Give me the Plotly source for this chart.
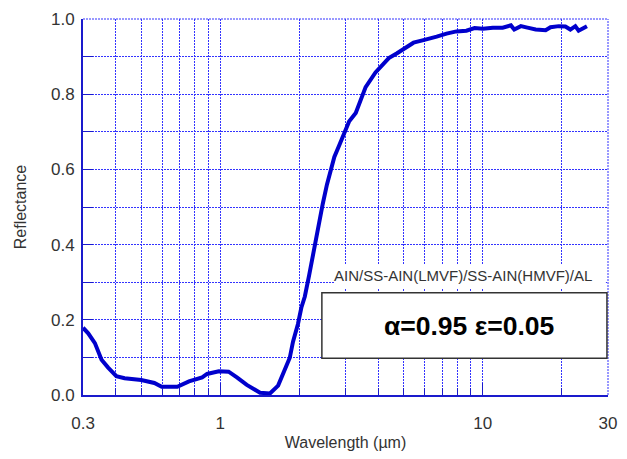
import plotly.graph_objects as go

# Wavelength (µm) and reflectance
wavelength = [0.300, 0.314, 0.333, 0.353, 0.374, 0.402, 0.432, 0.500, 0.561, 0.598,
              0.686, 0.760, 0.853, 0.891, 0.987, 1.076, 1.157, 1.262, 1.418, 1.546,
              1.661, 1.761, 1.840, 1.893, 1.977, 2.036, 2.10, 2.18, 2.272, 2.353,
              2.457, 2.550, 2.640, 2.720, 2.840, 3.008, 3.099, 3.282, 3.427, 3.579,
              3.903, 4.386, 4.715, 5.067, 5.448, 5.945, 6.118, 6.675, 7.277, 7.939,
              8.660, 9.305, 10.01, 10.92, 11.91, 12.80, 13.18, 13.97, 14.80, 15.91,
              17.36, 18.12, 19.48, 20.64, 21.56, 22.52, 23.18, 23.88, 24.94]
reflectance = [0.179, 0.164, 0.138, 0.094, 0.073, 0.050, 0.0445, 0.040, 0.032, 0.022,
               0.022, 0.036, 0.047, 0.056, 0.063, 0.062, 0.047, 0.027, 0.006, 0.004,
               0.025, 0.064, 0.099, 0.142, 0.189, 0.232, 0.262, 0.318, 0.383, 0.448,
               0.508, 0.560, 0.603, 0.633, 0.664, 0.702, 0.728, 0.750, 0.784, 0.819,
               0.858, 0.896, 0.909, 0.924, 0.937, 0.944, 0.946, 0.953, 0.961, 0.967,
               0.969, 0.976, 0.974, 0.977, 0.977, 0.983, 0.972, 0.981, 0.977, 0.972,
               0.970, 0.978, 0.981, 0.980, 0.972, 0.981, 0.969, 0.974, 0.981]

x_tick_vals = [0.3, 1, 10, 30]
x_tick_text = ["0.3", "1", "10", "30"]
x_minor_vals = [0.4, 0.5, 0.6, 0.7, 0.8, 0.9, 2, 3, 4, 5, 6, 7, 8, 9, 20]
y_tick_vals = [0.0, 0.2, 0.4, 0.6, 0.8, 1.0]
y_tick_text = ["0.0", "0.2", "0.4", "0.6", "0.8", "1.0"]
y_minor_vals = [0.1, 0.3, 0.5, 0.7, 0.9]

sample_label = "AIN/SS-AIN(LMVF)/SS-AIN(HMVF)/AL"
value_label = "α=0.95 ε=0.05"

BLUE = "#1a1acc"
GRID = "#3333ff"
DASH = "2px,1px"
FONT = "Arial, Liberation Sans, sans-serif"

fig = go.Figure()
fig.add_trace(go.Scatter(x=wavelength, y=reflectance, mode="lines",
                         line=dict(color="#0000cc", width=4), showlegend=False))

fig.update_xaxes(
    type="log", range=[-0.5229, 1.4771],
    tickvals=x_tick_vals, ticktext=x_tick_text,
    ticks="inside", ticklen=12, tickcolor=BLUE, tickwidth=1,
    showgrid=True, gridcolor=GRID, griddash=DASH, gridwidth=1,
    minor=dict(tickvals=x_minor_vals, ticks="inside", ticklen=7, tickcolor=BLUE,
               showgrid=True, gridcolor=GRID, griddash=DASH, gridwidth=1),
    showline=True, linecolor=BLUE, linewidth=2, zeroline=False,
    tickfont=dict(family=FONT, size=17, color="#333333"),
    ticklabelstandoff=12,
    title=dict(text="Wavelength (µm)", font=dict(family=FONT, size=16, color="#333333"),
               standoff=4),
)
fig.update_yaxes(
    range=[0, 1.0],
    tickvals=y_tick_vals, ticktext=y_tick_text,
    ticks="inside", ticklen=10, tickcolor=BLUE, tickwidth=1,
    showgrid=True, gridcolor=GRID, griddash=DASH, gridwidth=1,
    minor=dict(tickvals=y_minor_vals, ticks="inside", ticklen=10, tickcolor=BLUE,
               showgrid=True, gridcolor=GRID, griddash=DASH, gridwidth=1),
    showline=True, linecolor=BLUE, linewidth=2, zeroline=False,
    tickfont=dict(family=FONT, size=17, color="#333333"),
    ticklabelstandoff=3,
    title=dict(text="Reflectance", font=dict(family=FONT, size=16, color="#333333"),
               standoff=20),
)

# dotted top and right frame edges
fig.add_shape(type="line", xref="paper", yref="paper", x0=0, x1=1, y0=1, y1=1,
              line=dict(color=GRID, width=1, dash=DASH))
fig.add_shape(type="line", xref="paper", yref="paper", x0=1, x1=1, y0=0, y1=1,
              line=dict(color=GRID, width=1, dash=DASH))

# white background behind the sample label
fig.add_shape(type="rect", xref="paper", yref="paper", x0=0.479, x1=0.996, y0=0.282, y1=0.347,
              fillcolor="white", line=dict(width=0), layer="above")
# boxed value label
fig.add_shape(type="rect", xref="paper", yref="paper", x0=0.455, x1=0.998, y0=0.098, y1=0.272,
              fillcolor="white", line=dict(color="#333333", width=1.5), layer="above")

fig.add_annotation(xref="paper", yref="paper", x=0.7245, y=0.318, text=sample_label,
                   showarrow=False, font=dict(family=FONT, size=15, color="#333333"),
                   xanchor="center", yanchor="middle")
fig.add_annotation(xref="paper", yref="paper", x=0.736, y=0.184, text="<b>" + value_label + "</b>",
                   showarrow=False, font=dict(family=FONT, size=26.5, color="black"),
                   xanchor="center", yanchor="middle")

fig.update_layout(
    width=627, height=459,
    margin=dict(l=83, r=14, t=10, b=63),
    paper_bgcolor="white", plot_bgcolor="white",
)

fig.write_html("out.html")
